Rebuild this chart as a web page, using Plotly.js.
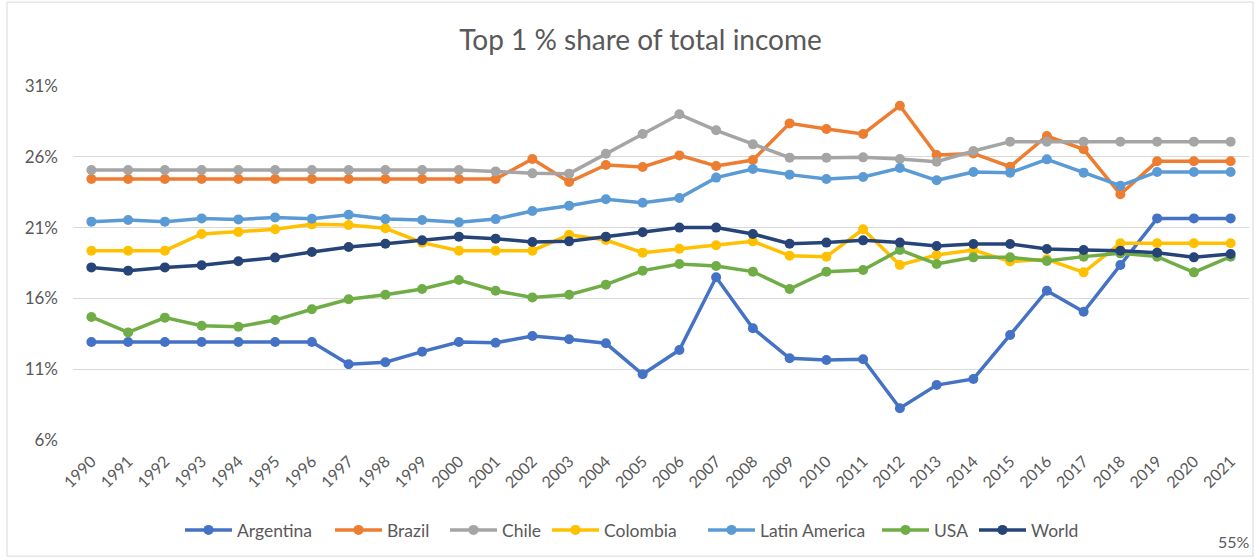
<!DOCTYPE html>
<html>
<head>
<meta charset="utf-8">
<script src="https://cdn.plot.ly/plotly-3.0.1.min.js"></script>
<style>html,body{margin:0;padding:0;background:#fff;}#chart{width:1255px;height:558px;}</style>
</head>
<body>
<div id="chart"></div>
<script>
var years = ["1990","1991","1992","1993","1994","1995","1996","1997","1998","1999","2000","2001","2002","2003","2004","2005","2006","2007","2008","2009","2010","2011","2012","2013","2014","2015","2016","2017","2018","2019","2020","2021"];

var argentina = [12.92,12.92,12.92,12.92,12.92,12.92,12.92,11.35,11.49,12.24,12.92,12.87,13.34,13.11,12.83,10.64,12.36,17.49,13.89,11.77,11.65,11.70,8.24,9.88,10.31,13.42,16.54,15.06,18.36,21.65,21.65,21.65];
var brazil = [24.43,24.43,24.43,24.43,24.43,24.43,24.43,24.43,24.43,24.43,24.43,24.43,25.84,24.22,25.42,25.28,26.10,25.35,25.77,28.36,27.96,27.61,29.61,26.13,26.24,25.30,27.47,26.53,23.35,25.68,25.68,25.68];
var chile = [25.07,25.07,25.07,25.07,25.07,25.07,25.07,25.07,25.07,25.07,25.07,24.97,24.83,24.81,26.22,27.61,29.00,27.87,26.88,25.94,25.94,25.96,25.84,25.65,26.41,27.07,27.07,27.07,27.07,27.07,27.07,27.07];
var colombia = [19.37,19.37,19.37,20.55,20.69,20.88,21.23,21.18,20.95,19.94,19.37,19.37,19.37,20.50,20.12,19.23,19.51,19.75,20.03,19.02,18.95,20.88,18.36,19.07,19.42,18.60,18.76,17.84,19.89,19.89,19.89,19.89];
var latinAmerica = [21.42,21.54,21.42,21.65,21.58,21.72,21.62,21.91,21.60,21.54,21.37,21.60,22.17,22.55,23.00,22.76,23.09,24.53,25.14,24.74,24.43,24.57,25.21,24.34,24.93,24.88,25.82,24.88,23.96,24.93,24.93,24.93];
var usa = [14.69,13.60,14.64,14.07,14.00,14.47,15.23,15.94,16.26,16.66,17.30,16.54,16.07,16.26,16.97,17.96,18.43,18.29,17.89,16.66,17.89,18.01,19.42,18.43,18.90,18.90,18.64,18.95,19.18,18.95,17.84,18.95];
var world = [18.19,17.96,18.19,18.34,18.62,18.88,19.28,19.63,19.86,20.10,20.36,20.22,19.98,20.03,20.36,20.67,21.00,21.00,20.55,19.86,19.94,20.10,19.94,19.70,19.84,19.84,19.49,19.42,19.37,19.23,18.90,19.14];

var seriesNames = ["Argentina","Brazil","Chile","Colombia","Latin America","USA","World"];
var seriesValues = [argentina, brazil, chile, colombia, latinAmerica, usa, world];
var seriesColors = ["#4472C4","#ED7D31","#A5A5A5","#FFC000","#5B9BD5","#70AD47","#264478"];
var legendStarts = [188, 338, 453, 555, 711, 885, 982];

var font = "Lato, 'Open Sans', sans-serif";
var grey = "#595959";

var traces = seriesNames.map(function(n, i){
  return {
    type: "scatter", mode: "lines+markers", name: n,
    x: years, y: seriesValues[i],
    legend: i === 0 ? "legend" : "legend" + (i + 1),
    line: {color: seriesColors[i], width: 3.5},
    marker: {color: seriesColors[i], size: 10}
  };
});

var layout = {
  width: 1255, height: 558,
  margin: {l: 73, r: 6, t: 86, b: 118},
  paper_bgcolor: "#ffffff", plot_bgcolor: "#ffffff",
  font: {family: font, color: grey, size: 16},
  title: {text: "Top 1 % share of total income", font: {family: font, size: 28, color: grey},
          xref: "container", x: 640.5/1255, xanchor: "center", yref: "container", y: 1 - 40/558, yanchor: "middle"},
  xaxis: {type: "category", range: [-0.5, 31.5], tickangle: -45, showgrid: false, zeroline: false,
          showline: false, ticks: "", ticklabelstandoff: 8, tickfont: {family: font, size: 16, color: grey}, fixedrange: true},
  yaxis: {range: [6, 31], tick0: 6, dtick: 5, ticksuffix: "%", showgrid: true, gridcolor: "#d9d9d9", gridwidth: 1.3,
          zeroline: false, showline: false, ticks: "", ticklabelstandoff: 14, tickfont: {family: font, size: 17, color: grey}, fixedrange: true},
  showlegend: true,
  shapes: [{type: "rect", xref: "paper", yref: "paper", x0: -0.0561, x1: 1.0034, y0: -0.328, y1: 1.237,
            line: {color: "#d9d9d9", width: 1}, layer: "below"}],
  annotations: [{text: "55%", xref: "paper", yref: "paper", x: (1252-73)/1176, xanchor: "right",
                 y: (440-541)/354, yanchor: "middle", showarrow: false, font: {family: font, size: 16, color: grey}}]
};

legendStarts.forEach(function(px, i){
  var key = i === 0 ? "legend" : "legend" + (i + 1);
  layout[key] = {orientation: "h", xref: "container", x: (px - 8)/1255, xanchor: "left",
                 yref: "container", y: 1 - 530/558, yanchor: "middle", itemwidth: 47,
                 font: {family: font, size: 17.5, color: grey}, bgcolor: "rgba(0,0,0,0)"};
});

Plotly.newPlot("chart", traces, layout, {displayModeBar: false, staticPlot: true});
</script>
</body>
</html>
